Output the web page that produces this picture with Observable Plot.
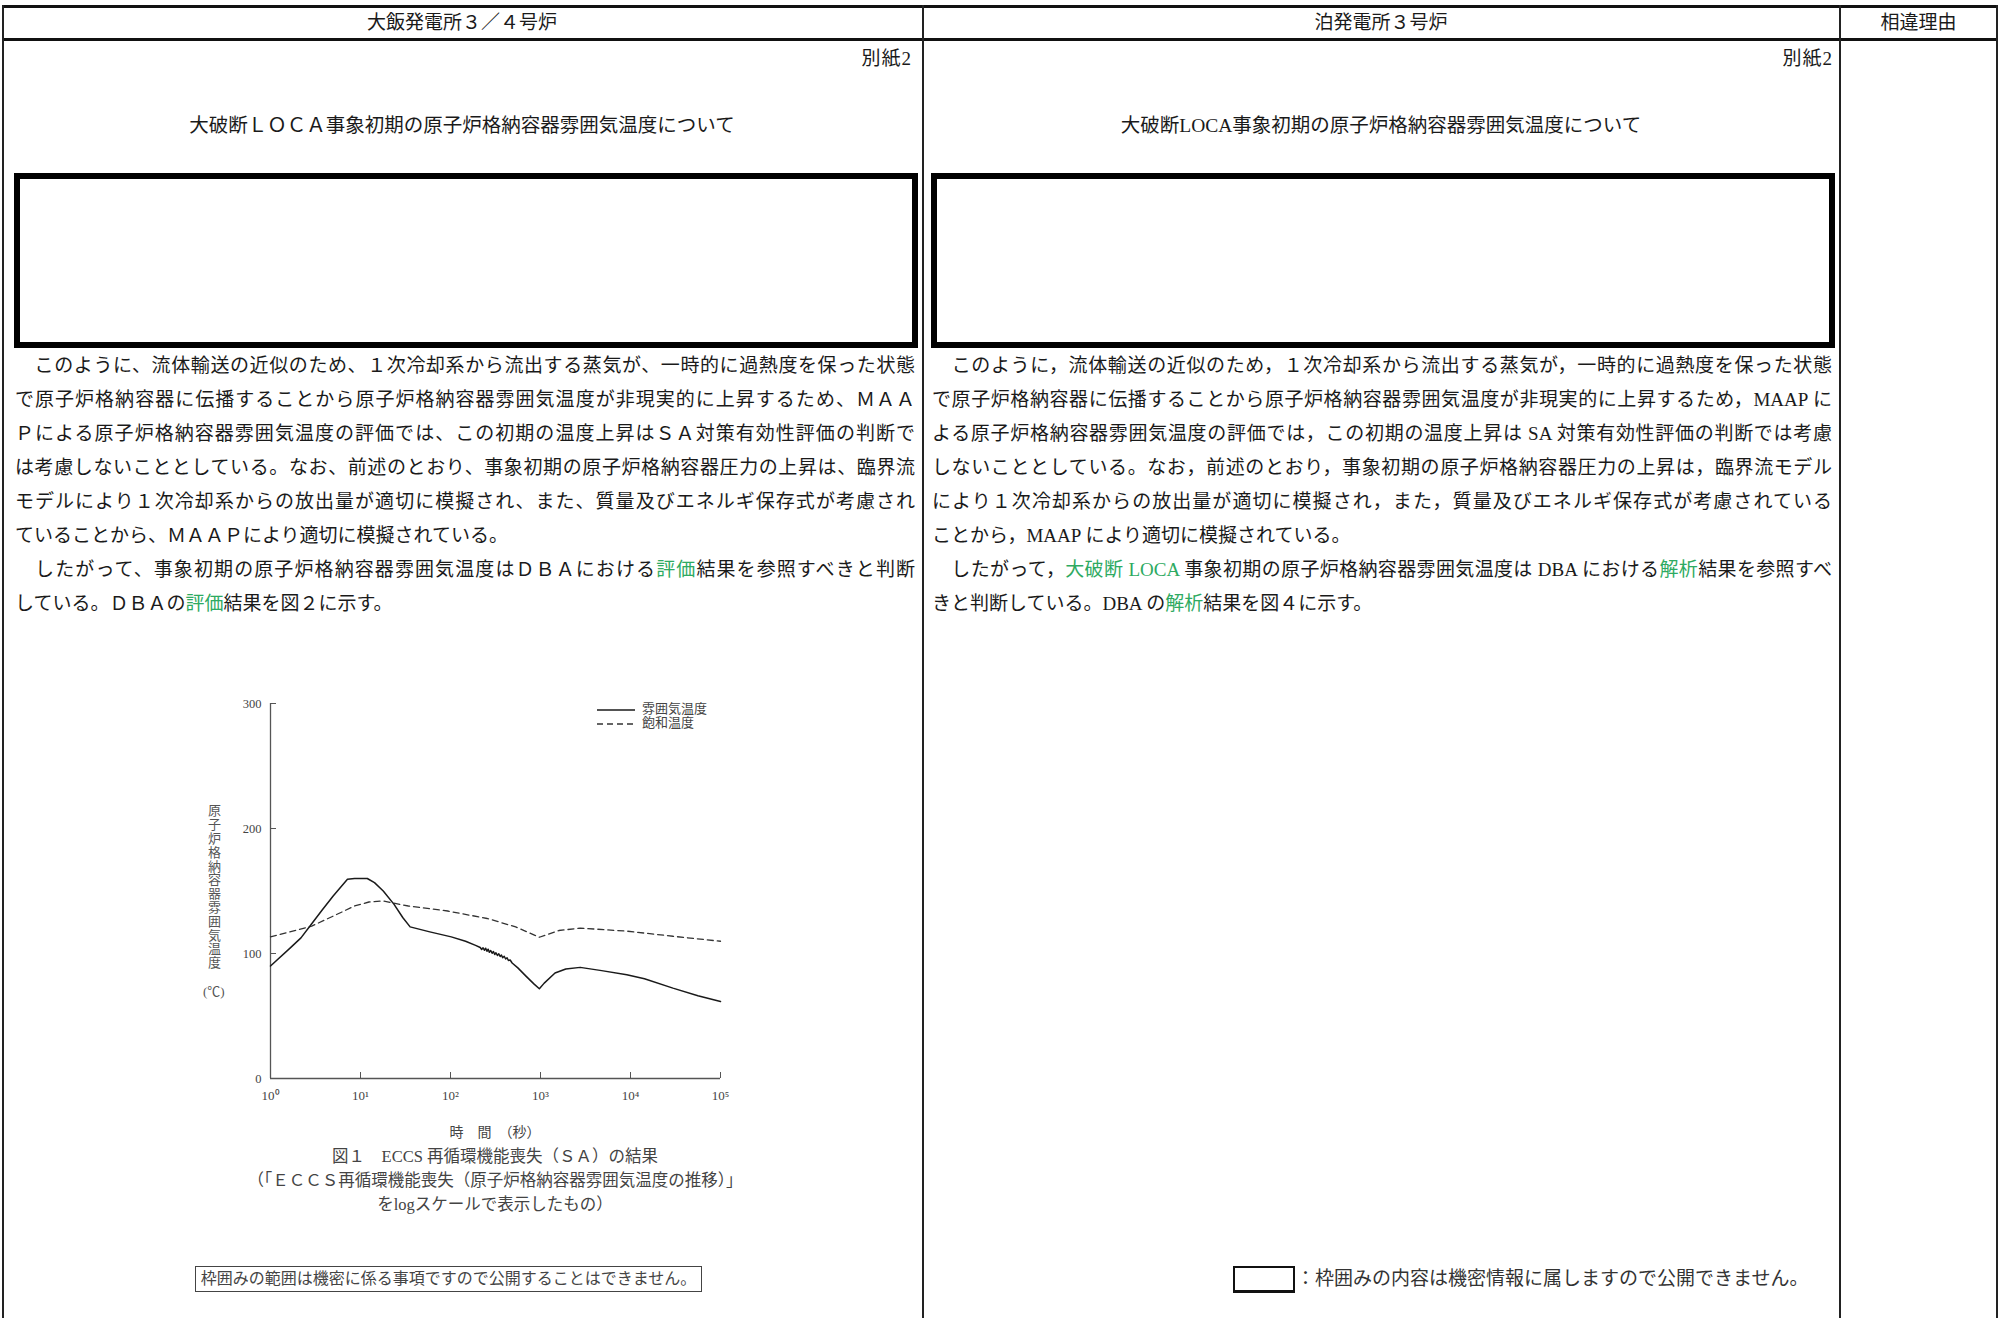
<!DOCTYPE html>
<html><head><meta charset="utf-8">
<script src="https://cdn.jsdelivr.net/npm/d3@7"></script>
<script src="https://cdn.jsdelivr.net/npm/@observablehq/plot@0.6"></script>
<style>
html,body{margin:0;padding:0;background:#fff;}
#page{position:relative;width:2000px;height:1318px;overflow:hidden;font-family:"Liberation Serif","Noto Sans CJK JP",serif;color:#1a1a1a;}
.abs{position:absolute;white-space:nowrap;}
.hl{position:absolute;background:#111;}
.vl{position:absolute;background:#222;width:1.5px;}
.line{position:absolute;white-space:nowrap;font-size:19px;height:26px;line-height:26px;}
.just{text-align:justify;text-align-last:justify;}
.g{color:#2eaa62;}
.box{position:absolute;border:6px solid #000;box-sizing:border-box;}
#chart{position:absolute;left:180px;top:680px;}
</style></head>
<body><div id="page">
<!-- table frame -->
<div class="hl" style="left:2px;top:5px;width:1996px;height:3px"></div>
<div class="hl" style="left:2px;top:38px;width:1996px;height:3px"></div>
<div class="vl" style="left:2px;top:5px;height:1313px"></div>
<div class="vl" style="left:922px;top:5px;height:1313px"></div>
<div class="vl" style="left:1839px;top:5px;height:1313px"></div>
<div class="vl" style="left:1996px;top:5px;height:1313px"></div>
<div id="chart"></div>
</div>
<script>
// ---- document text ----
const headers = ["大飯発電所３／４号炉", "泊発電所３号炉", "相違理由"];
const annexLabel = "別紙2";
const titles = ["大破断ＬＯＣＡ事象初期の原子炉格納容器雰囲気温度について", "大破断LOCA事象初期の原子炉格納容器雰囲気温度について"];
const leftLines = [
  "　このように、流体輸送の近似のため、１次冷却系から流出する蒸気が、一時的に過熱度を保った状態",
  "で原子炉格納容器に伝播することから原子炉格納容器雰囲気温度が非現実的に上昇するため、ＭＡＡ",
  "Ｐによる原子炉格納容器雰囲気温度の評価では、この初期の温度上昇はＳＡ対策有効性評価の判断で",
  "は考慮しないこととしている。なお、前述のとおり、事象初期の原子炉格納容器圧力の上昇は、臨界流",
  "モデルにより１次冷却系からの放出量が適切に模擬され、また、質量及びエネルギ保存式が考慮され",
  "ていることから、ＭＡＡＰにより適切に模擬されている。",
  "　したがって、事象初期の原子炉格納容器雰囲気温度はＤＢＡにおける[評価]結果を参照すべきと判断",
  "している。ＤＢＡの[評価]結果を図２に示す。"
];
const rightLines = [
  "　このように，流体輸送の近似のため，１次冷却系から流出する蒸気が，一時的に過熱度を保った状態",
  "で原子炉格納容器に伝播することから原子炉格納容器雰囲気温度が非現実的に上昇するため，MAAP に",
  "よる原子炉格納容器雰囲気温度の評価では，この初期の温度上昇は SA 対策有効性評価の判断では考慮",
  "しないこととしている。なお，前述のとおり，事象初期の原子炉格納容器圧力の上昇は，臨界流モデル",
  "により１次冷却系からの放出量が適切に模擬され，また，質量及びエネルギ保存式が考慮されている",
  "ことから，MAAP により適切に模擬されている。",
  "　したがって，[大破断 LOCA] 事象初期の原子炉格納容器雰囲気温度は DBA における[解析]結果を参照すべ",
  "きと判断している。DBA の[解析]結果を図４に示す。"
];
const justifiedRows = [true, true, true, true, true, false, true, false];
const yAxisTitle = "原子炉格納容器雰囲気温度";
const yAxisUnit = "(℃)";
const xAxisTitle = "時　間　（秒）";
const captionLines = ["図１　ECCS 再循環機能喪失（ＳＡ）の結果", "（「ＥＣＣＳ再循環機能喪失（原子炉格納容器雰囲気温度の推移）」", "をlogスケールで表示したもの）"];
const legendLabels = ["雰囲気温度", "飽和温度"];
const noteLeft = "枠囲みの範囲は機密に係る事項ですので公開することはできません。";
const noteRight = "：枠囲みの内容は機密情報に属しますので公開できません。";

// ---- chart data ----
const xTicks = [1, 10, 100, 1000, 10000, 100000];
const xTickLabels = ["10⁰", "10¹", "10²", "10³", "10⁴", "10⁵"];
const yTicks = [0, 100, 200, 300];
const ambientTime = [1, 1.66, 2.18, 2.87, 3.77, 4.97, 7.16, 8.6, 11.9, 14.3, 17.9, 23.6, 29.6, 35.6, 58.9, 102, 147, 190, 214, 222, 230, 238, 246, 254, 262, 270, 280, 290, 300, 310, 320, 332, 344, 356, 368, 380, 395, 410, 425, 440, 460, 484, 560, 694, 850, 971, 1100, 1450, 1910, 2760, 4780, 9100, 14300, 29600, 56100, 100000];
const ambientTemp = [90, 104.5, 112.5, 123.8, 135, 146, 159.4, 160, 160, 156.7, 150, 139.3, 128.6, 121.3, 117.3, 113.3, 109.8, 106.5, 104.8, 103.2, 104.6, 102.6, 104.2, 101.8, 103.4, 101, 102.4, 100.2, 101.6, 99.2, 100.6, 98.4, 99.8, 97.6, 98.8, 96.6, 97.8, 95.6, 96.6, 94.4, 94.8, 92.4, 88.5, 81.7, 75.5, 71.8, 76.3, 84.4, 87.6, 88.9, 86.3, 83, 79.8, 72.3, 66.2, 61.6];
const satTime = [1, 2.87, 4.97, 8.6, 12.4, 17.9, 34, 93, 256, 530, 971, 1600, 2760, 9100, 29600, 100000];
const satTemp = [113.3, 121.9, 129.9, 138, 141.2, 142, 138, 134, 128, 121.3, 113, 118.4, 120.3, 117.9, 113.8, 109.8];

const page = document.getElementById("page");
function add(html, style, cls = "abs") {
  const d = document.createElement("div");
  d.className = cls; d.setAttribute("style", style); d.innerHTML = html; page.appendChild(d); return d;
}
function mark(s) { return s.replace(/\[(.*?)\]/g, '<span class="g">$1</span>'); }

// headers
add(headers[0], "left:2px;width:920px;top:9px;text-align:center;font-size:19px;line-height:28px");
add(headers[1], "left:923px;width:916px;top:9px;text-align:center;font-size:19px;line-height:28px");
add(headers[2], "left:1840px;width:157px;top:9px;text-align:center;font-size:19px;line-height:28px");
// annex labels
add(annexLabel, "right:1088px;top:46px;font-size:19px;line-height:26px;letter-spacing:1px");
add(annexLabel, "right:167px;top:46px;font-size:19px;line-height:26px;letter-spacing:1px");
// titles
add(titles[0], "left:2px;width:920px;top:113px;text-align:center;font-size:19.5px;line-height:26px");
add(titles[1], "left:923px;width:916px;top:113px;text-align:center;font-size:19.5px;line-height:26px");
// confidential boxes
add("", "left:14px;top:173px;width:904px;height:175px", "box");
add("", "left:931px;top:173px;width:904px;height:175px", "box");
// paragraphs
leftLines.forEach((t, i) => add(mark(t), `left:15px;width:900px;top:${353 + i * 34}px`, "line" + (justifiedRows[i] ? " just" : "")));
rightLines.forEach((t, i) => add(mark(t), `left:932px;width:900px;top:${353 + i * 34}px`, "line" + (justifiedRows[i] ? " just" : "")));

// chart
const ambient = ambientTime.map((t, i) => ({t, v: ambientTemp[i]}));
const saturation = satTime.map((t, i) => ({t, v: satTemp[i]}));
const chart = Plot.plot({
  width: 560, height: 440,
  marginLeft: 90, marginRight: 20, marginTop: 23, marginBottom: 42,
  style: {fontFamily: "Liberation Serif, serif", fontSize: "12.5px", color: "#444", background: "transparent"},
  x: {type: "log", domain: [1, 100000]},
  y: {domain: [0, 300]},
  marks: [
    Plot.axisY({ticks: yTicks, tickSize: -6, tickPadding: 15, label: null, stroke: "#555", fill: "#444", tickFormat: d => String(d)}),
    Plot.axisX({ticks: xTicks, tickSize: -6, tickPadding: 18, label: null, stroke: "#555", fill: "#444", fontSize: 13, tickFormat: d => xTickLabels[xTicks.indexOf(d)]}),
    Plot.ruleX([1], {stroke: "#555", strokeWidth: 1.3}),
    Plot.ruleY([0], {stroke: "#555", strokeWidth: 1.3}),
    Plot.line(saturation, {x: "t", y: "v", stroke: "#333", strokeWidth: 1.3, strokeDasharray: "6,4"}),
    Plot.line(ambient, {x: "t", y: "v", stroke: "#1a1a1a", strokeWidth: 1.5})
  ]
});
document.getElementById("chart").appendChild(chart);

// legend
add(`<svg width="40" height="30" style="position:absolute;left:0;top:0"><line x1="0" x2="38" y1="6" y2="6" stroke="#1a1a1a" stroke-width="1.5"/><line x1="0" x2="38" y1="20" y2="20" stroke="#333" stroke-width="1.3" stroke-dasharray="6,4"/></svg>
<div style="position:absolute;left:45px;top:-2px;font-size:13px;line-height:14px;color:#444">${legendLabels[0]}<br>${legendLabels[1]}</div>`, "left:597px;top:704px;width:130px;height:30px");
// y axis title
add(yAxisTitle, "left:204px;top:804px;writing-mode:vertical-rl;text-orientation:upright;font-size:13px;letter-spacing:0.8px;color:#555");
add(yAxisUnit, "left:203px;top:981px;font-size:13px;color:#555");
// x axis title & caption
add(xAxisTitle, "left:380px;width:230px;top:1121px;text-align:center;font-size:14px;color:#444");
captionLines.forEach((t, i) => add(t, `left:200px;width:590px;top:${1146 + i * 24}px;text-align:center;font-size:16.5px;line-height:22px;color:#444`));
// notes
add(noteLeft, "left:195px;top:1266px;width:507px;height:26px;box-sizing:border-box;border:1.5px solid #444;text-align:center;font-size:16px;line-height:23px;color:#444");
add("", "left:1233px;top:1266px;width:62px;height:27px;box-sizing:border-box;border:2px solid #111;border-top-width:2.5px;border-bottom-width:3px");
add(noteRight, "left:1296px;top:1266px;font-size:19px;line-height:26px;color:#333");
</script>
</body></html>
